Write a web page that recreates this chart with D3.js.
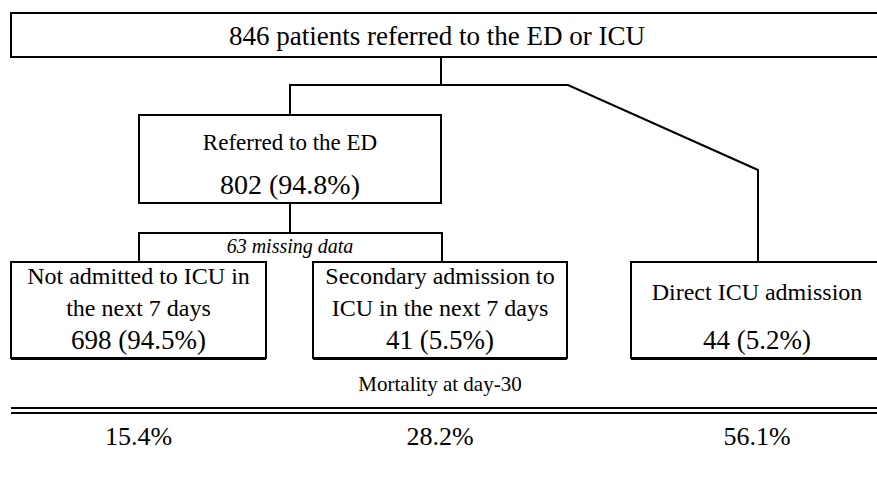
<!DOCTYPE html>
<html>
<head>
<meta charset="utf-8">
<script src="https://cdn.jsdelivr.net/npm/d3@7"></script>
<style>
  body { margin: 0; background: #fff; }
  text { font-family: "Liberation Serif", "Times New Roman", serif; fill: #000; }
</style>
</head>
<body>
<div id="chart"></div>
<script>
// data
const totalLabel = "846 patients referred to the ED or ICU";
const edLabel = "Referred to the ED";
const edCount = 802;
const edPct = "94.8%";
const missingLabel = "63 missing data";
const groupKeys = ["notAdmitted", "secondary", "direct"];
const groupLines = [
    ["Not admitted to ICU in", "the next 7 days"],
    ["Secondary admission to", "ICU in the next 7 days"],
    ["Direct ICU admission"]
];
const groupCounts = [698, 41, 44];
const groupPcts = ["94.5%", "5.5%", "5.2%"];
const mortalityTitle = "Mortality at day-30";
const mortality = ["15.4%", "28.2%", "56.1%"];

const width = 877, height = 477;

// column centres and box edges per group
const xMid = d3.scaleOrdinal().domain(groupKeys).range([138.5, 440, 757]);
const xLeft = d3.scaleOrdinal().domain(groupKeys).range([11, 313, 631]);
const xRight = d3.scaleOrdinal().domain(groupKeys).range([266, 567, 900]);

// rows of the diagram
const y = d3.scaleOrdinal()
    .domain(["topT", "topB", "split", "edT", "edB", "missT", "grpT", "grpB", "rule"])
    .range([13, 57, 85, 115, 203, 233, 262, 358, 408]);

const svg = d3.select("#chart").append("svg")
    .attr("width", width)
    .attr("height", height);

const lines = svg.append("g")
    .attr("fill", "none")
    .attr("stroke", "#000")
    .attr("stroke-width", 2);

// top box
lines.append("rect")
    .attr("x", 11).attr("y", y("topT"))
    .attr("width", 900).attr("height", y("topB") - y("topT"));
svg.append("text")
    .attr("x", 437).attr("y", y("topT") + 32)
    .attr("text-anchor", "middle")
    .style("font-size", "27px")
    .text(totalLabel);

// connectors
const edX = 290;
const path = d3.path();
path.moveTo(441, y("topB")); path.lineTo(441, y("split"));
path.moveTo(edX, y("edT")); path.lineTo(edX, y("split"));
path.lineTo(568, y("split"));
path.lineTo(758, 170);
path.lineTo(758, y("grpT"));
path.moveTo(edX, y("edB")); path.lineTo(edX, y("missT"));
lines.append("path").attr("d", path.toString());

// ED box
lines.append("rect")
    .attr("x", 139).attr("y", y("edT"))
    .attr("width", 302).attr("height", y("edB") - y("edT"));
svg.append("text")
    .attr("x", edX).attr("y", 150)
    .attr("text-anchor", "middle")
    .style("font-size", "23px")
    .text(edLabel);
svg.append("text")
    .attr("x", edX).attr("y", 194)
    .attr("text-anchor", "middle")
    .style("font-size", "28px")
    .text(`${edCount} (${edPct})`);

// missing data bracket
lines.append("path")
    .attr("d", `M139,${y("grpT")}V${y("missT")}H442V${y("grpT")}`);
svg.append("text")
    .attr("x", edX).attr("y", 253)
    .attr("text-anchor", "middle")
    .style("font-size", "20px")
    .style("font-style", "italic")
    .text(missingLabel);

// group boxes
const boxes = svg.selectAll(".grp")
    .data(groupKeys)
    .enter()
    .append("g")
    .attr("class", "grp");

boxes.append("rect")
    .attr("x", d => xLeft(d))
    .attr("y", y("grpT"))
    .attr("width", d => xRight(d) - xLeft(d))
    .attr("height", y("grpB") - y("grpT"))
    .attr("fill", "#fff")
    .attr("stroke", "#000")
    .attr("stroke-width", 2);

boxes.append("line")
    .attr("x1", d => xLeft(d)).attr("x2", d => xRight(d))
    .attr("y1", y("grpB") + 1).attr("y2", y("grpB") + 1)
    .attr("stroke", "#000").attr("stroke-width", 2);

boxes.each(function(d, i) {
    const g = d3.select(this);
    const ls = groupLines[i];
    const ys = ls.length === 2 ? [284, 316] : [300];
    ls.forEach((t, j) => {
        g.append("text")
            .attr("x", xMid(d)).attr("y", ys[j])
            .attr("text-anchor", "middle")
            .style("font-size", "24px")
            .text(t);
    });
    g.append("text")
        .attr("x", xMid(d)).attr("y", 349)
        .attr("text-anchor", "middle")
        .style("font-size", "27px")
        .text(`${groupCounts[i]} (${groupPcts[i]})`);
});

// mortality
svg.append("text")
    .attr("x", 440).attr("y", 391)
    .attr("text-anchor", "middle")
    .style("font-size", "21px")
    .text(mortalityTitle);

lines.append("path")
    .attr("d", `M11,${y("rule")}H${width}M11,${y("rule") + 5}H${width}`);

svg.selectAll(".mort")
    .data(mortality)
    .enter()
    .append("text")
    .attr("class", "mort")
    .attr("x", (d, i) => xMid(groupKeys[i]))
    .attr("y", 445)
    .attr("text-anchor", "middle")
    .style("font-size", "26px")
    .text(d => d);
</script>
</body>
</html>
